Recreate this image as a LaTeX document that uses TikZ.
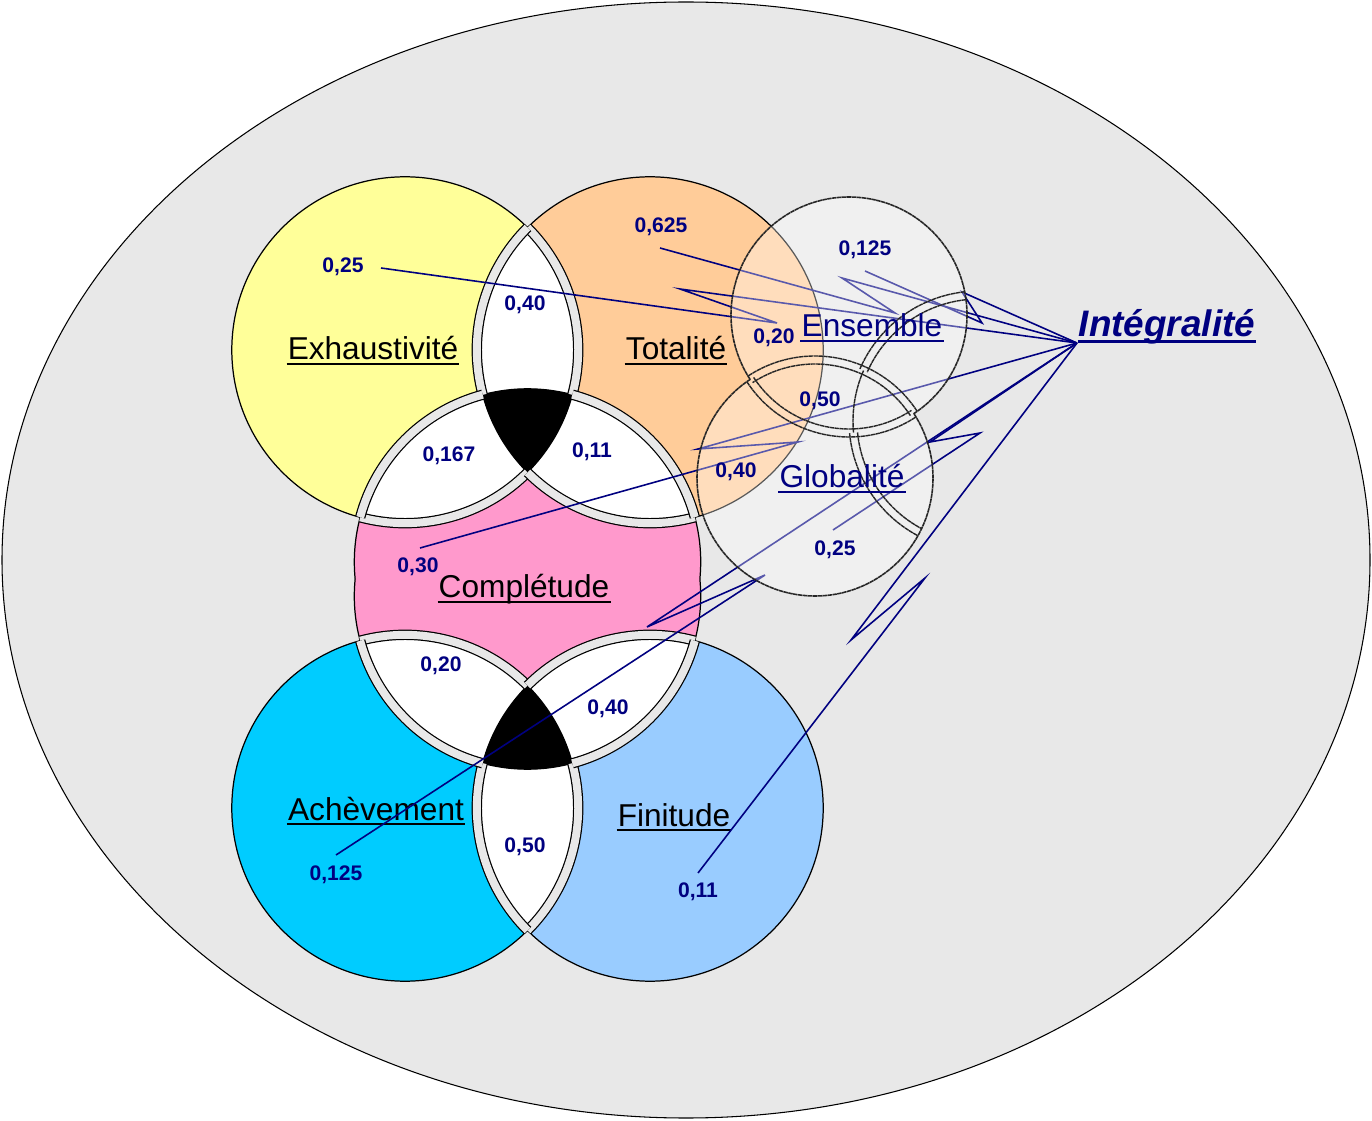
\documentclass[tikz,border=0pt]{standalone}
\usepackage{fontspec}
\setmainfont{Liberation Sans}
\usetikzlibrary{positioning}

\definecolor{bggray}{HTML}{E8E8E8}
\definecolor{yellowc}{HTML}{FFFF99}
\definecolor{orangec}{HTML}{FFCC99}
\definecolor{pinkc}{HTML}{FF99CC}
\definecolor{cyanc}{HTML}{00CCFF}
\definecolor{bluec}{HTML}{99CCFF}
\definecolor{navyc}{HTML}{000080}

\newcommand{\Rv}{173.2}
\newcommand{\rs}{118}

\tikzset{
  gap/.style={draw=black, line width=0.7pt, double=bggray, double distance=4.5pt},
  num/.style={text=navyc, font=\fontsize{12pt}{14pt}\selectfont\bfseries, inner sep=1pt},
  lbl/.style={font=\fontsize{18pt}{21pt}\selectfont, inner sep=0.5pt, anchor=base},
  callout/.style={draw=navyc, line width=0.9pt},
  rough/.style={draw=black!85, line width=0.9pt, dash pattern=on 2.5pt off 0.3pt},
  seam/.style={draw=black!85, line width=0.8pt, dash pattern=on 2.5pt off 0.3pt},
  ul/.style={line width=1pt}
}

\begin{document}
\begin{tikzpicture}[x=0.02cm, y=0.02cm]
	\useasboundingbox (0,0) rectangle (1372,1120);
	\filldraw[fill=bggray, draw=black, line width=0.6pt] (686,560) ellipse [x radius=684, y radius=558];

	% centres of the circles
	\coordinate (ctrExh) at (405,770);
	\coordinate (ctrTot) at (650,770);
	\coordinate (ctrCompU) at (527.5,558);
	\coordinate (ctrCompL) at (527.5,524);
	\coordinate (ctrAch) at (405,312);
	\coordinate (ctrFin) at (650,312);
	\coordinate (ctrEns) at (849,805);
	\coordinate (ctrGlo) at (815,642);
	\coordinate (ctrAux) at (979,699);

	% pink middle
	\fill[pinkc] (ctrCompU) circle (\Rv) (ctrCompL) circle (\Rv);

	% upper group
	\fill[yellowc] (ctrExh) circle (\Rv);
	\fill[orangec] (ctrTot) circle (\Rv);
	\begin{scope}
		\clip (ctrExh) circle (\Rv);
		\fill[white] (ctrTot) circle (\Rv);
	\end{scope}
	\begin{scope}
		\clip (ctrCompU) circle (\Rv);
		\fill[white] (ctrExh) circle (\Rv) (ctrTot) circle (\Rv);
		\clip (ctrExh) circle (\Rv);
		\clip (ctrTot) circle (\Rv);
		\fill[black] (ctrCompU) circle (\Rv);
	\end{scope}

	% lower group
	\fill[cyanc] (ctrAch) circle (\Rv);
	\fill[bluec] (ctrFin) circle (\Rv);
	\begin{scope}
		\clip (ctrAch) circle (\Rv);
		\fill[white] (ctrFin) circle (\Rv);
	\end{scope}
	\begin{scope}
		\clip (ctrCompL) circle (\Rv);
		\fill[white] (ctrAch) circle (\Rv) (ctrFin) circle (\Rv);
		\clip (ctrAch) circle (\Rv);
		\clip (ctrFin) circle (\Rv);
		\fill[black] (ctrCompL) circle (\Rv);
	\end{scope}

	% outlines
	\draw[line width=0.7pt] (ctrExh) circle (\Rv) (ctrTot) circle (\Rv) (ctrAch) circle (\Rv) (ctrFin) circle (\Rv);
	\draw[line width=0.7pt] ([shift={(-5.63:\Rv)}]ctrCompU) arc[start angle=-5.63, end angle=185.63, radius=\Rv];
	\draw[line width=0.7pt] ([shift={(174.37:\Rv)}]ctrCompL) arc[start angle=174.37, end angle=365.63, radius=\Rv];

	% gaps between the pieces
	\foreach \ctr/\a/\b in {ctrExh/-105/-45, ctrExh/-15/45, ctrTot/135/195, ctrTot/225/285,
		ctrCompU/15/75, ctrCompU/105/165, ctrAch/-45/15, ctrAch/45/105,
		ctrFin/75/135, ctrFin/165/225, ctrCompL/195/255, ctrCompL/285/345}
		\draw[gap] ([shift={(\a:\Rv)}]\ctr) arc[start angle=\a, end angle=\b, radius=\Rv];

	% names
	\node[lbl] (exhaust) at (373,760) {Exhaustivité};
	\node[lbl] (total) at (676,760) {Totalité};
	\node[lbl] (complet) at (524,522) {Complétude};
	\node[lbl] (acheve) at (376,300) {Achèvement};
	\node[lbl] (finit) at (674,294) {Finitude};
	\foreach \n in {exhaust, total, complet, acheve, finit}
		\draw[ul] ([yshift=-2.2pt]\n.base west) -- ([yshift=-2.2pt]\n.base east);

	% values
	\node[num] (vExh) at (343,853) {0,25};
	\node[num] (vExTo) at (525,815) {0,40};
	\node[num] (vTot) at (661,893) {0,625};
	\node[num] (vExCo) at (449,664) {0,167};
	\node[num] (vToCo) at (592,668) {0,11};
	\node[num] (vComp) at (418,553) {0,30};
	\node[num] (vCoAc) at (441,454) {0,20};
	\node[num] (vCoFi) at (608,411) {0,40};
	\node[num] (vAcFi) at (525,273) {0,50};
	\node[num] (vAch) at (336,245) {0,125};
	\node[num] (vFin) at (698,228) {0,11};

	% callouts
	\coordinate (hub) at (1077,777);
	\coordinate (s1) at (381,852); \coordinate (a1) at (777,797); \coordinate (b1) at (680,831);
	\coordinate (s2) at (660,872); \coordinate (a2) at (895,807); \coordinate (b2) at (842,842);
	\coordinate (s3) at (865,849); \coordinate (a3) at (982,797); \coordinate (b3) at (962,828);
	\coordinate (s4) at (420,572); \coordinate (a4) at (798,678); \coordinate (b4) at (698,671);
	\coordinate (s5) at (833,590); \coordinate (a5) at (980,687); \coordinate (b5) at (930,678);
	\coordinate (s6) at (336,265); \coordinate (a6) at (765,545); \coordinate (b6) at (647,493);
	\coordinate (s7) at (698,247); \coordinate (a7) at (925,542); \coordinate (b7) at (851,480);
	\foreach \i in {1,...,7}
		\draw[callout] (s\i) -- (a\i) -- (b\i) -- (hub);

	% Ensemble and Globalite
	\fill[white, fill opacity=0.35] (ctrEns) circle (\rs) (ctrGlo) circle (\rs);
	\draw[rough] ([shift={(303.2:\rs)}]ctrEns) arc[start angle=303.2, end angle=573.2, radius=\rs];
	\draw[rough] ([shift={(123.2:\rs)}]ctrGlo) arc[start angle=123.2, end angle=393.2, radius=\rs];
	\foreach \ctr/\a/\b/\q in {ctrEns/213.2/303.2/114, ctrEns/213.2/303.2/122,
		ctrGlo/33.2/123.2/114, ctrGlo/33.2/123.2/122,
		ctrAux/96.2/156.4/122, ctrAux/96.2/156.4/130,
		ctrAux/185.4/242/122, ctrAux/185.4/242/130}
		\draw[seam] ([shift={(\a:\q)}]\ctr) arc[start angle=\a, end angle=\b, radius=\q];
	\draw[seam] ([shift={(156.4:126)}]ctrAux) arc[start angle=156.4, end angle=185.4, radius=126];

	\node[lbl, text=navyc] (ensem) at (872,783) {Ensemble};
	\node[lbl, text=navyc] (global) at (842,632) {Globalité};
	\foreach \n in {ensem, global}
		\draw[ul, navyc] ([yshift=-2.2pt]\n.base west) -- ([yshift=-2.2pt]\n.base east);
	\node[num] (vEns) at (865,870) {0,125};
	\node[num] (vToEn) at (774,782) {0,20};
	\node[num] (vEnGl) at (820,719) {0,50};
	\node[num] (vToGl) at (736,648) {0,40};
	\node[num] (vGlo) at (835,570) {0,25};

	\node[anchor=base, inner sep=0.5pt, text=navyc, font=\fontsize{21pt}{24pt}\selectfont\bfseries\itshape] (integ) at (1167,783) {Intégralité};
	\draw[navyc, line width=1.4pt] ([yshift=-2.5pt]integ.base west) -- ([yshift=-2.5pt]integ.base east);
\end{tikzpicture}
\end{document}
